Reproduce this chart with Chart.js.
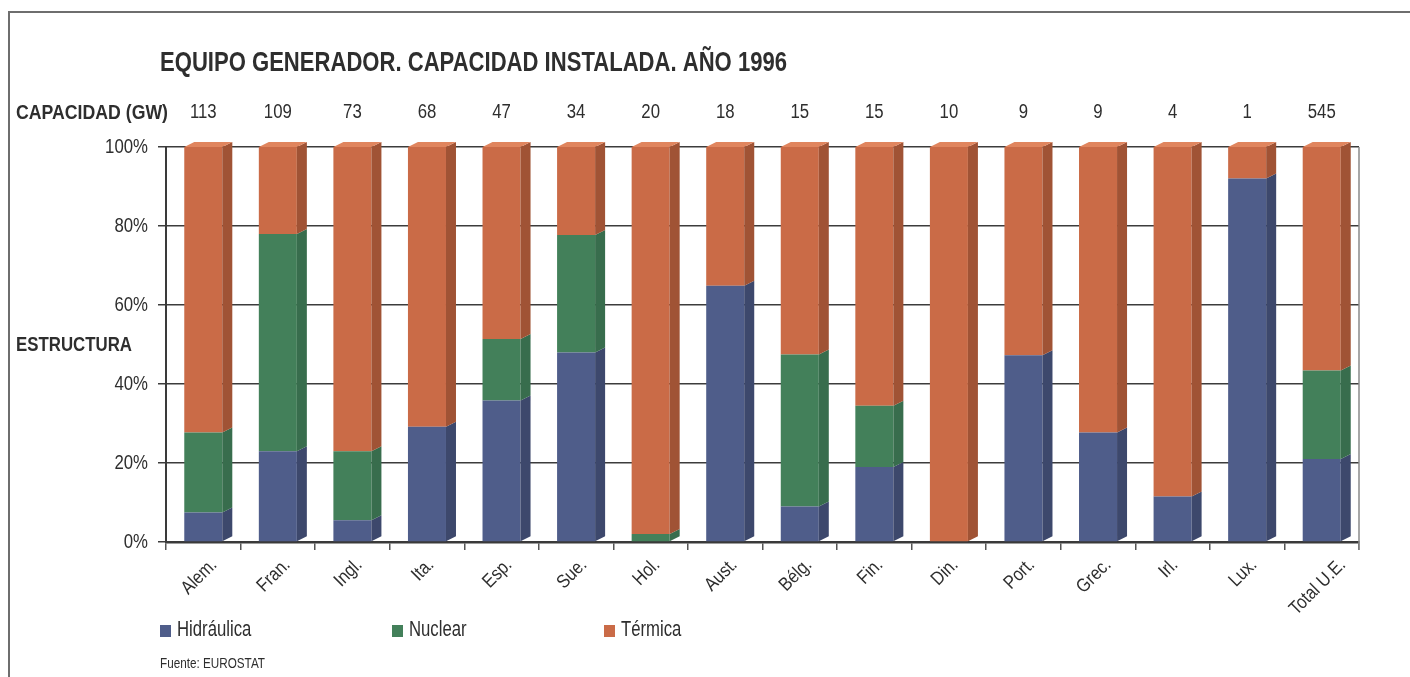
<!DOCTYPE html>
<html>
<head>
<meta charset="utf-8">
<script src="https://cdn.jsdelivr.net/npm/chart.js@4"></script>
<style>
  body { margin: 0; background: #fff; }
  #wrap { width: 1410px; height: 677px; }
</style>
</head>
<body>
<div id="wrap"><canvas id="chart" width="1410" height="677"></canvas></div>
<script>
// datos
const paises = ['Alem.', 'Fran.', 'Ingl.', 'Ita.', 'Esp.', 'Sue.', 'Hol.', 'Aust.', 'Bélg.', 'Fin.', 'Din.', 'Port.', 'Grec.', 'Irl.', 'Lux.', 'Total U.E.'];
const capacidad = [113, 109, 73, 68, 47, 34, 20, 18, 15, 15, 10, 9, 9, 4, 1, 545];
const hidraulica = [7.5, 23, 5.5, 29.2, 35.8, 48, 0, 64.9, 9, 19, 0, 47.3, 27.7, 11.5, 92, 21];
const nuclear = [20.2, 55, 17.5, 0, 15.6, 29.7, 2, 0, 38.5, 15.5, 0, 0, 0, 0, 0, 22.4];
const termica = [72.3, 22, 77, 70.8, 48.6, 22.3, 98, 35.1, 52.5, 65.5, 100, 52.7, 72.3, 88.5, 8, 56.6];
const yTicks = [0, 20, 40, 60, 80, 100];

const FONT = "'Liberation Sans', Arial, sans-serif";
const TXT = '#2e2e2e';

const series = [
    { label: 'Hidráulica', data: hidraulica, front: '#4f5d8a', side: '#3d486c', top: '#6877a3' },
    { label: 'Nuclear', data: nuclear, front: '#43805a', side: '#386d4d', top: '#5a9a72' },
    { label: 'Térmica', data: termica, front: '#ca6b47', side: '#a05335', top: '#e0855e' }
];

// texto estrecho: se comprime en horizontal (la fuente original es condensada)
function txt(ctx, s, x, y, size, o) {
    o = o || {};
    ctx.save();
    ctx.font = (o.bold ? 'bold ' : '') + size + 'px ' + FONT;
    const w = ctx.measureText(s).width;
    const sc = o.width ? o.width / w : (o.scale || 0.86);
    ctx.translate(x, y);
    if (o.rot) ctx.rotate(o.rot);
    ctx.scale(sc, 1);
    ctx.textAlign = o.align || 'left';
    ctx.textBaseline = 'middle';
    ctx.fillStyle = o.color || TXT;
    ctx.fillText(s, 0, 0);
    ctx.restore();
    return w * sc;
}

// ==========================================
// efecto 3D
// ==========================================
const DX = 10, DY = 5;
const bars3d = {
    id: 'bars3d',
    afterDatasetsDraw(chart) {
        const ctx = chart.ctx;
        ctx.save();
        chart.data.datasets.forEach((ds, di) => {
            const meta = chart.getDatasetMeta(di);
            meta.data.forEach((bar, i) => {
                if (!ds.data[i]) return;
                const p = bar.getProps(['x', 'y', 'base', 'width'], true);
                const left = p.x - p.width / 2, right = p.x + p.width / 2;
                ctx.fillStyle = series[di].side;
                ctx.beginPath();
                ctx.moveTo(right, p.base);
                ctx.lineTo(right + DX, p.base - DY);
                ctx.lineTo(right + DX, p.y - DY);
                ctx.lineTo(right, p.y);
                ctx.closePath();
                ctx.fill();
                // tapa superior solo en el ultimo tramo
                let last = -1;
                chart.data.datasets.forEach((d, k) => { if (d.data[i]) last = k; });
                if (last === di) {
                    ctx.fillStyle = series[di].top;
                    ctx.beginPath();
                    ctx.moveTo(left, p.y);
                    ctx.lineTo(left + DX, p.y - DY);
                    ctx.lineTo(right + DX, p.y - DY);
                    ctx.lineTo(right, p.y);
                    ctx.closePath();
                    ctx.fill();
                }
            });
        });
        ctx.restore();
    }
};

// ==========================================
// marco y textos
// ==========================================
const textos = {
    id: 'textos',
    beforeDraw(chart) {
        const ctx = chart.ctx;
        ctx.save();
        ctx.fillStyle = '#fff';
        ctx.fillRect(0, 0, chart.width, chart.height);
        ctx.strokeStyle = '#6e6e6e';
        ctx.lineWidth = 2;
        ctx.beginPath();
        ctx.moveTo(9, 677);
        ctx.lineTo(9, 12);
        ctx.lineTo(1410, 12);
        ctx.stroke();
        ctx.restore();
    },
    afterDraw(chart) {
        const ctx = chart.ctx;
        const x = chart.scales.x, y = chart.scales.y;
        const area = chart.chartArea;

        txt(ctx, 'EQUIPO GENERADOR. CAPACIDAD INSTALADA. AÑO 1996', 160, 63, 28, { bold: true, width: 627 });
        txt(ctx, 'CAPACIDAD (GW)', 16, 113, 20, { bold: true, width: 152 });
        txt(ctx, 'ESTRUCTURA', 16, 345, 20, { bold: true, width: 116 });

        capacidad.forEach((v, i) => txt(ctx, String(v), x.getPixelForValue(i), 113, 19.5, { align: 'center' }));

        // etiquetas eje Y
        y.ticks.forEach(t => txt(ctx, t.value + '%', 148, y.getPixelForValue(t.value) + 1, 19.5, { align: 'right' }));

        // etiquetas eje X, giradas 45 grados
        x.ticks.forEach((t, i) => {
            const c = x.getPixelForValue(i);
            ctx.save();
            ctx.font = '19px ' + FONT;
            const L = ctx.measureText(paises[i]).width * 0.86;
            ctx.restore();
            const cy = 557 + (L + 14) * 0.354;
            txt(ctx, paises[i], c - 4, cy, 19, { align: 'center', rot: -Math.PI / 4 });
        });

        // leyenda
        const lx = [160, 392, 573 + 31];
        series.forEach((s, i) => {
            ctx.fillStyle = s.front;
            ctx.fillRect(lx[i], 625, 11, 12);
            txt(ctx, s.label, lx[i] + 17, 630, 22, { scale: 0.76 });
        });
        txt(ctx, 'Fuente: EUROSTAT', 160, 664, 15, { width: 105 });

        // pared derecha
        ctx.save();
        ctx.strokeStyle = '#8a8a8a';
        ctx.lineWidth = 1.5;
        ctx.beginPath();
        ctx.moveTo(area.right, area.top);
        ctx.lineTo(area.right, area.bottom + 8);
        ctx.stroke();
        ctx.restore();
    }
};

const ctx = document.getElementById('chart').getContext('2d');
const chart = new Chart(ctx, {
    type: 'bar',
    data: {
        labels: paises,
        datasets: series.map(s => ({
            label: s.label,
            data: s.data,
            backgroundColor: s.front,
            borderWidth: 0,
            categoryPercentage: 1,
            barPercentage: 0.51
        }))
    },
    options: {
        responsive: false,
        animation: false,
        devicePixelRatio: 1,
        layout: { padding: { top: 147, right: 51, left: 0, bottom: 0 } },
        plugins: { legend: { display: false }, tooltip: { enabled: false }, title: { display: false } },
        scales: {
            x: {
                stacked: true,
                afterFit(scale) { scale.height = 135; },
                grid: { drawOnChartArea: false, color: '#555', tickLength: 8, lineWidth: 1.5 },
                border: { color: '#3a3a3a', width: 2.5 },
                ticks: { display: false }
            },
            y: {
                stacked: true,
                min: 0, max: 100,
                afterFit(scale) { scale.width = 166; },
                afterBuildTicks(scale) { scale.ticks = yTicks.map(v => ({ value: v })); },
                grid: { color: '#3c3c3c', lineWidth: 1.5, tickLength: 8 },
                border: { color: '#3a3a3a', width: 2 },
                ticks: { display: false }
            }
        }
    },
    plugins: [bars3d, textos]
});
</script>
</body>
</html>
